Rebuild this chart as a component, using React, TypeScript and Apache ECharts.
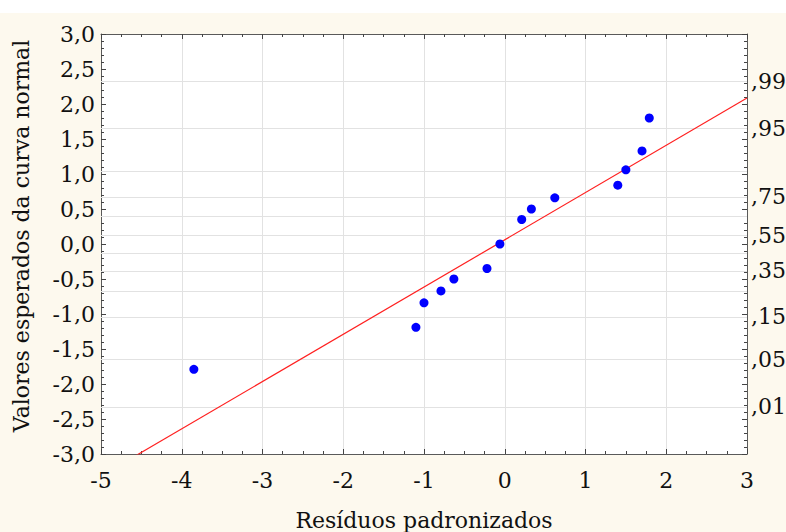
import React, { useEffect, useRef } from "react";
import * as echarts from "echarts";

// Standardized residuals (x) against expected normal values (y)
const residuals = [-3.85, -1.1, -1.0, -0.79, -0.63, -0.22, -0.06, 0.21, 0.33, 0.62, 1.4, 1.5, 1.7, 1.79];
const expected = [-1.79, -1.19, -0.84, -0.67, -0.5, -0.35, 0.0, 0.35, 0.5, 0.66, 0.84, 1.06, 1.33, 1.8];

// Reference line of the normal probability plot
const fitSlope = 0.675;
const fitIntercept = 0.06;

// Probability scale on the right axis: cumulative probability and its normal quantile
const probLabels = [",01", ",05", ",15", ",25", ",35", ",45", ",55", ",65", ",75", ",85", ",95", ",99"];
const probQuantiles = [-2.326, -1.645, -1.036, -0.674, -0.385, -0.126, 0.126, 0.385, 0.674, 1.036, 1.645, 2.326];
const labelledProbs = [",01", ",05", ",15", ",35", ",55", ",75", ",95", ",99"];

const xTitle = "Resíduos padronizados";
const yTitle = "Valores esperados da curva normal";

const FONT = "DejaVu Serif";
const TEXT = "#111";
const FRAME = "#5a5a5a";
const GRID = "#e2e2e2";

export default function App() {
  const ref = useRef<HTMLDivElement>(null);

  useEffect(() => {
    if (!ref.current) return;
    const chart = echarts.init(ref.current, null, { renderer: "svg" });

    const labelZ = probQuantiles.filter((_, i) => labelledProbs.includes(probLabels[i]));
    const zToLabel = (v: number) => {
      let best = 0;
      probQuantiles.forEach((q, i) => {
        if (Math.abs(q - v) < Math.abs(probQuantiles[best] - v)) best = i;
      });
      return probLabels[best];
    };

    const axisLine = { show: true, onZero: false, lineStyle: { color: FRAME, width: 1 } };
    const yTicks = {
      axisTick: { show: true, inside: true, length: 5, lineStyle: { color: "#444" } },
      minorTick: { show: true, splitNumber: 5, length: 3, lineStyle: { color: "#444" } },
    };
    const xTicks = {
      axisTick: { show: true, inside: true, length: 5, lineStyle: { color: "#444" } },
      minorTick: { show: true, splitNumber: 4, length: 3, lineStyle: { color: "#444" } },
    };

    chart.setOption({
      animation: false,
      backgroundColor: "#fdf9ee",
      textStyle: { fontFamily: FONT },
      graphic: [
        { type: "rect", left: 0, top: 0, shape: { width: 786, height: 13 }, style: { fill: "#ffffff" }, z: -10 },
      ],
      grid: {
        left: 101,
        right: 39,
        top: 34,
        bottom: 78,
        outerBoundsMode: "none",
        containLabel: false,
        show: true,
        backgroundColor: "#ffffff",
        borderWidth: 0,
      },
      xAxis: [
        {
          type: "value",
          position: "bottom",
          min: -5,
          max: 3,
          interval: 1,
          name: xTitle,
          nameLocation: "middle",
          nameGap: 55,
          nameTextStyle: { fontFamily: FONT, fontSize: 22, color: TEXT },
          axisLine,
          ...xTicks,
          axisLabel: { fontFamily: FONT, fontSize: 22, color: TEXT, margin: 15 },
          splitLine: { show: true, lineStyle: { color: GRID, width: 1 } },
        },
        {
          type: "value",
          position: "top",
          min: -5,
          max: 3,
          interval: 1,
          axisLine,
          ...xTicks,
          axisLabel: { show: false },
          splitLine: { show: false },
        },
      ],
      yAxis: [
        {
          type: "value",
          position: "left",
          min: -3,
          max: 3,
          interval: 0.5,
          name: yTitle,
          nameLocation: "middle",
          nameGap: 69,
          nameTextStyle: { fontFamily: FONT, fontSize: 22, color: TEXT, padding: [0, 0, 0, 16] },
          axisLine,
          ...yTicks,
          axisLabel: {
            fontFamily: FONT,
            fontSize: 22,
            color: TEXT,
            margin: 6,
            formatter: (v: number) => v.toFixed(1).replace(".", ","),
          },
          splitLine: { show: false },
        },
        {
          type: "value",
          position: "right",
          min: -3,
          max: 3,
          interval: 0.5,
          axisLine,
          ...yTicks,
          axisLabel: {
            fontFamily: FONT,
            fontSize: 22,
            color: TEXT,
            margin: 4,
            customValues: labelZ,
            formatter: (v: number) => zToLabel(v),
          },
          splitLine: { show: false },
        },
      ],
      series: [
        {
          type: "line",
          data: [
            [-5, fitIntercept + fitSlope * -5],
            [3, fitIntercept + fitSlope * 3],
          ],
          symbol: "none",
          clip: true,
          lineStyle: { color: "#ff2020", width: 1.2 },
          silent: true,
          z: 3,
          markLine: {
            silent: true,
            symbol: "none",
            label: { show: false },
            lineStyle: { color: GRID, type: "solid", width: 1 },
            data: probQuantiles.map((q) => ({ yAxis: q })),
            z: 1,
          },
        },
        {
          type: "scatter",
          data: residuals.map((r, i) => [r, expected[i]]),
          symbol: "circle",
          symbolSize: 9,
          itemStyle: { color: "#0000ff", opacity: 1 },
          z: 4,
        },
      ],
    });

    return () => chart.dispose();
  }, []);

  return (
    <div
      ref={ref}
      style={{ position: "fixed", left: 0, top: 0, width: 786, height: 532 }}
    />
  );
}
